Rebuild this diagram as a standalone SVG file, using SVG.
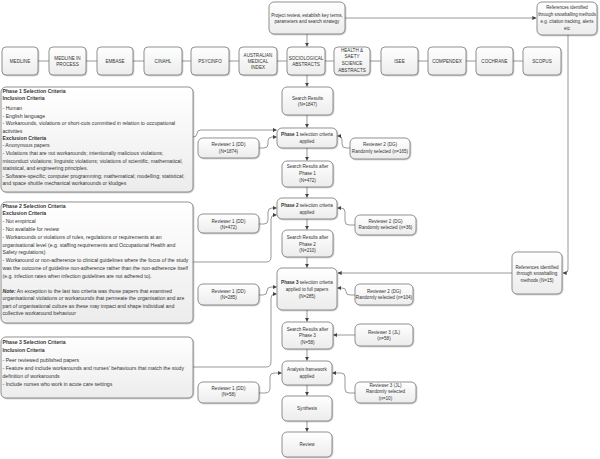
<svg xmlns="http://www.w3.org/2000/svg" width="600" height="459" viewBox="0 0 600 459">
<defs>
<linearGradient id="g" x1="0" y1="0" x2="0" y2="1"><stop offset="0" stop-color="#ffffff"/><stop offset="1" stop-color="#ececec"/></linearGradient>
<filter id="sh" x="-10%" y="-10%" width="130%" height="140%"><feDropShadow dx="0.8" dy="0.8" stdDeviation="0.6" flood-color="#000" flood-opacity="0.25"/></filter>
<marker id="a" viewBox="0 0 6 6" refX="5.5" refY="3" markerWidth="4" markerHeight="4" orient="auto" markerUnits="userSpaceOnUse"><path d="M0,0 L6,3 L0,6 Z" fill="#444"/></marker>
</defs>
<style>
.b{fill:url(#g);stroke:#666;stroke-width:0.7;filter:url(#sh)}
.t{font-family:"Liberation Sans",Arial,sans-serif;font-size:4.6px;fill:#333;text-anchor:middle}
.s{font-size:4.45px}
.l{font-family:"Liberation Sans",Arial,sans-serif;font-size:5.15px;fill:#333}
.h{font-weight:bold}
.c{fill:none;stroke:#555;stroke-width:0.6}
.c.m{marker-end:url(#a)}
</style>
<rect width="600" height="459" fill="#fff"/>

<g id="connectors">
<path class="c m" d="M345,18 L536,18"/>
<path class="c m" d="M568,35 L568,269 Q568,273 565,273 L563,273"/>
<path class="c m" d="M512,273 L338,273"/>
<path class="c" d="M38,61 L49,61 M86,61 L97,61 M133,61 L144,61 M182,61 L191,61 M229,61 L239,61 M277,61 L287,61 M325,61 L334,61 M370,61 L381,61 M418,61 L428,61 M466,61 L476,61 M513,61 L523,61"/>
<path class="c m" d="M307,34 L307,46.5"/>
<path class="c m" d="M307,75 L307,86.5"/>
<path class="c m" d="M307,115 L307,127.5"/>
<path class="c m" d="M307,148 L307,160.5"/>
<path class="c m" d="M307,187 L307,197.5"/>
<path class="c m" d="M307,219 L307,229.5"/>
<path class="c m" d="M307,257 L307,267.5"/>
<path class="c m" d="M307,310 L307,321.5"/>
<path class="c m" d="M307,349 L307,360.5"/>
<path class="c m" d="M307,385 L307,395.5"/>
<path class="c m" d="M307,421 L307,431.5"/>
<path class="c m" d="M193,137 Q197,137 197,133.5 Q197,130 201,130 L276.5,130"/>
<path class="c m" d="M259,148 L264,148 Q268,148 268,144 L268,141 Q268,137 272,137 L276.5,137"/>
<path class="c m" d="M193,262 L266,262 Q271,262 271,257 L271,219 Q271,215 275,215 L276.5,215"/>
<path class="c m" d="M259,224 L264,224 Q268,224 268,220 L268,212 Q268,208 272,208 L276.5,208"/>
<path class="c m" d="M193,367 L266,367 Q271,367 271,362 L271,298 Q271,294 275,294 L276.5,294"/>
<path class="c m" d="M259,295 L263,295 Q267,295 267,291 Q267,287 271,287 L276.5,287"/>
<path class="c m" d="M259,393 L265,393 Q270,393 270,388 L270,377 Q270,373 274,373 L281.5,373"/>
<path class="c m" d="M350,148 L346,148 Q342,148 342,144 L342,140 Q342,136 339,136 L337.5,136"/>
<path class="c m" d="M355,225 L349,225 Q345,225 345,221 L345,212 Q345,208 341,208 L337.5,208"/>
<path class="c m" d="M355,295 L350,295 Q346,295 346,291.5 Q346,288 342,288 L337.5,288"/>
<path class="c m" d="M355,335 L333.5,335"/>
<path class="c m" d="M355,393 L349,393 Q345,393 345,389 L345,377 Q345,373 341,373 L332.5,373"/>
</g>

<g id="project"><rect class="b" x="269" y="2" width="76" height="32" rx="5"/><text class="t" x="307" y="16.5">Project review, establish key terms,</text><text class="t" x="307" y="22.5">parameters and search strategy</text></g>
<g id="refs"><rect class="b" x="537" y="2" width="60" height="33" rx="5"/><text class="t s" x="567" y="9">References identified</text><text class="t s" x="567" y="15.5">through snowballing methods</text><text class="t s" x="567" y="22.5">e.g. citation tracking, alerts</text><text class="t s" x="567" y="29.5">etc</text></g>

<g id="db-medline"><rect class="b" x="2" y="47" width="36" height="28" rx="4"/><text class="t" x="20" y="62.5">MEDLINE</text></g>
<g id="db-medline-ip"><rect class="b" x="49" y="47" width="37" height="28" rx="4"/><text class="t" x="67.5" y="59.5">MEDLINE IN</text><text class="t" x="67.5" y="66">PROCESS</text></g>
<g id="db-embase"><rect class="b" x="97" y="47" width="36" height="28" rx="4"/><text class="t" x="115" y="62.5">EMBASE</text></g>
<g id="db-cinahl"><rect class="b" x="144" y="47" width="38" height="28" rx="4"/><text class="t" x="163" y="62.5">CINAHL</text></g>
<g id="db-psycinfo"><rect class="b" x="191" y="47" width="38" height="28" rx="4"/><text class="t" x="210" y="62.5">PSYCINFO</text></g>
<g id="db-ami"><rect class="b" x="239" y="47" width="38" height="28" rx="4"/><text class="t" x="258" y="56.5">AUSTRALIAN</text><text class="t" x="258" y="62.5">MEDICAL</text><text class="t" x="258" y="68.5">INDEX</text></g>
<g id="db-socio"><rect class="b" x="287" y="47" width="38" height="28" rx="4"/><text class="t" x="306" y="59.5">SOCIOLOGICAL</text><text class="t" x="306" y="65.5">ABSTRACTS</text></g>
<g id="db-hs"><rect class="b" x="334" y="47" width="36" height="28" rx="4"/><text class="t" x="352" y="51.5">HEALTH &amp;</text><text class="t" x="352" y="58">SAETY</text><text class="t" x="352" y="65">SCIENCE</text><text class="t" x="352" y="72">ABSTRACTS</text></g>
<g id="db-isee"><rect class="b" x="381" y="47" width="37" height="28" rx="4"/><text class="t" x="399.5" y="62.5">ISEE</text></g>
<g id="db-compendex"><rect class="b" x="428" y="47" width="38" height="28" rx="4"/><text class="t" x="447" y="62.5">COMPENDEX</text></g>
<g id="db-cochrane"><rect class="b" x="476" y="47" width="37" height="28" rx="4"/><text class="t" x="494.5" y="62.5">COCHRANE</text></g>
<g id="db-scopus"><rect class="b" x="523" y="47" width="38" height="28" rx="4"/><text class="t" x="542" y="62.5">SCOPUS</text></g>

<g id="crit1"><rect class="b" x="1" y="87" width="192" height="105" rx="5"/>
<text class="l h" x="2.5" y="92.5">Phase 1 Selection Criteria</text>
<text class="l h" x="2.5" y="100">Inclusion Criteria</text>
<text class="l" x="2.5" y="110">- Human</text>
<text class="l" x="2.5" y="117.5">- English language</text>
<text class="l" x="2.5" y="125">- Workarounds, violations or short-cuts committed in relation to occupational</text>
<text class="l" x="2.5" y="132.5">activities</text>
<text class="l h" x="2.5" y="140">Exclusion Criteria</text>
<text class="l" x="2.5" y="147">- Anonymous papers</text>
<text class="l" x="2.5" y="155">- Violations that are not workarounds; intentionally malicious violations;</text>
<text class="l" x="2.5" y="162.5">misconduct violations; linguistic violations; violations of scientific, mathematical,</text>
<text class="l" x="2.5" y="170">statistical, and engineering principles.</text>
<text class="l" x="2.5" y="177.5">- Software-specific; computer programming; mathematical; modelling; statistical;</text>
<text class="l" x="2.5" y="185">and space shuttle mechanical workarounds or kludges</text>
</g>

<g id="crit2"><rect class="b" x="1" y="202" width="192" height="121" rx="5"/>
<text class="l h" x="2.5" y="207.5">Phase 2 Selection Criteria</text>
<text class="l h" x="2.5" y="215">Exclusion Criteria</text>
<text class="l" x="2.5" y="222.5">- Not empirical</text>
<text class="l" x="2.5" y="230.5">- Not available for review</text>
<text class="l" x="2.5" y="238.5">- Workarounds or violations of rules, regulations or requirements at an</text>
<text class="l" x="2.5" y="246.5">organisational level (e.g. staffing requirements and Occupational Health and</text>
<text class="l" x="2.5" y="254">Safety regulations)</text>
<text class="l" x="2.5" y="261.5">- Workaround or non-adherence to clinical guidelines where the focus of the study</text>
<text class="l" x="2.5" y="269.5">was the outcome of guideline non-adherence rather than the non-adherence itself</text>
<text class="l" x="2.5" y="277.5">(e.g. infection rates when infection guidelines are not adhered to).</text>
<text class="l" x="2.5" y="292.5"><tspan class="h" font-style="italic">Note:</tspan> An exception to the last two criteria was those papers that examined</text>
<text class="l" x="2.5" y="300">organisational violations or workarounds that permeate the organisation and are</text>
<text class="l" x="2.5" y="307.5">part of organisational culture as these may impact and shape individual and</text>
<text class="l" x="2.5" y="315">collective workaround behaviour</text>
</g>

<g id="crit3"><rect class="b" x="1" y="337" width="192" height="61" rx="5"/>
<text class="l h" x="2.5" y="343.5">Phase 3 Selection Criteria</text>
<text class="l h" x="2.5" y="351.5">Inclusion Criteria</text>
<text class="l" x="2.5" y="361.5">- Peer reviewed published papers</text>
<text class="l" x="2.5" y="369.5">- Feature and include workarounds and nurses’ behaviours that match the study</text>
<text class="l" x="2.5" y="378">definition of workarounds</text>
<text class="l" x="2.5" y="385.5">- Include nurses who work in acute care settings</text>
</g>

<g id="sr0"><rect class="b" x="282" y="87" width="51" height="28" rx="5"/><text class="t" x="307.5" y="99.5">Search Results</text><text class="t" x="307.5" y="105.5">(N=1847)</text></g>
<g id="p1"><rect class="b" x="277" y="128" width="60" height="20" rx="5"/><text class="t" x="307" y="135.5"><tspan font-weight="bold">Phase 1</tspan> selection criteria</text><text class="t" x="307" y="142.5">applied</text></g>
<g id="sr1"><rect class="b" x="282" y="161" width="51" height="26" rx="5"/><text class="t" x="307.5" y="167.5">Search Results after</text><text class="t" x="307.5" y="174.5">Phase 1</text><text class="t" x="307.5" y="181.5">(N=472)</text></g>
<g id="p2"><rect class="b" x="277" y="198" width="60" height="21" rx="5"/><text class="t" x="307" y="206.5"><tspan font-weight="bold">Phase 2</tspan> selection criteria</text><text class="t" x="307" y="213.5">applied</text></g>
<g id="sr2"><rect class="b" x="282" y="230" width="51" height="27" rx="5"/><text class="t" x="307.5" y="238.5">Search Results after</text><text class="t" x="307.5" y="245.5">Phase 2</text><text class="t" x="307.5" y="252">(N=210)</text></g>
<g id="p3"><rect class="b" x="277" y="268" width="60" height="42" rx="5"/><text class="t" x="307" y="283.5"><tspan font-weight="bold">Phase 3</tspan> selection criteria</text><text class="t" x="307" y="290.5">applied to full papers</text><text class="t" x="307" y="297.5">(N=285)</text></g>
<g id="sr3"><rect class="b" x="282" y="322" width="51" height="27" rx="5"/><text class="t" x="307.5" y="330.5">Search Results after</text><text class="t" x="307.5" y="337">Phase 3</text><text class="t" x="307.5" y="343.5">(N=58)</text></g>
<g id="analysis"><rect class="b" x="282" y="361" width="50" height="24" rx="5"/><text class="t" x="307" y="370.5">Analysis framework</text><text class="t" x="307" y="377.5">applied</text></g>
<g id="synthesis"><rect class="b" x="282" y="396" width="50" height="25" rx="5"/><text class="t" x="307" y="409.5">Synthesis</text></g>
<g id="review"><rect class="b" x="282" y="432" width="50" height="25" rx="5"/><text class="t" x="307" y="445.5">Review</text></g>

<g id="snowball"><rect class="b" x="512" y="252" width="50" height="42" rx="5"/><text class="t" x="537" y="268.5">References identified</text><text class="t" x="537" y="275">through snowballing</text><text class="t" x="537" y="281.5">methods (N=15)</text></g>

<g id="r1a"><rect class="b" x="198" y="138" width="61" height="20" rx="5"/><text class="t" x="228.5" y="145.5">Reviewer 1 (DD)</text><text class="t" x="228.5" y="152.5">(N=1874)</text></g>
<g id="r1b"><rect class="b" x="198" y="214" width="61" height="19" rx="5"/><text class="t" x="228.5" y="222.5">Reviewer 1 (DD)</text><text class="t" x="228.5" y="228.5">(N=472)</text></g>
<g id="r1c"><rect class="b" x="198" y="284" width="61" height="21" rx="5"/><text class="t" x="228.5" y="292.5">Reviewer 1 (DD)</text><text class="t" x="228.5" y="298.5">(N=285)</text></g>
<g id="r1d"><rect class="b" x="198" y="382" width="61" height="21" rx="5"/><text class="t" x="228.5" y="389.5">Reviewer 1 (DD)</text><text class="t" x="228.5" y="395.5">(N=58)</text></g>

<g id="r2a"><rect class="b" x="350" y="138" width="60" height="21" rx="5"/><text class="t" x="380" y="145.5">Reviewer 2 (DG)</text><text class="t" x="380" y="152.5">Randomly selected (n=165)</text></g>
<g id="r2b"><rect class="b" x="355" y="215" width="61" height="20" rx="5"/><text class="t" x="385.5" y="222.5">Reviewer 2 (DG)</text><text class="t" x="385.5" y="228.5">Randomly selected (n=36)</text></g>
<g id="r2c"><rect class="b" x="355" y="284" width="58" height="21" rx="5"/><text class="t" x="384" y="292.5">Reviewer 2 (DG)</text><text class="t" x="384" y="298.5">Randomly selected (n=104)</text></g>
<g id="r3a"><rect class="b" x="355" y="324" width="58" height="22" rx="5"/><text class="t" x="384" y="333.5">Reviewer 3 (JL)</text><text class="t" x="384" y="339.5">(n=58)</text></g>
<g id="r3b"><rect class="b" x="355" y="382" width="61" height="21" rx="5"/><text class="t" x="385.5" y="386.5">Reviewer 3 (JL)</text><text class="t" x="385.5" y="393">Randomly selected</text><text class="t" x="385.5" y="399.5">(n=10)</text></g>
</svg>
